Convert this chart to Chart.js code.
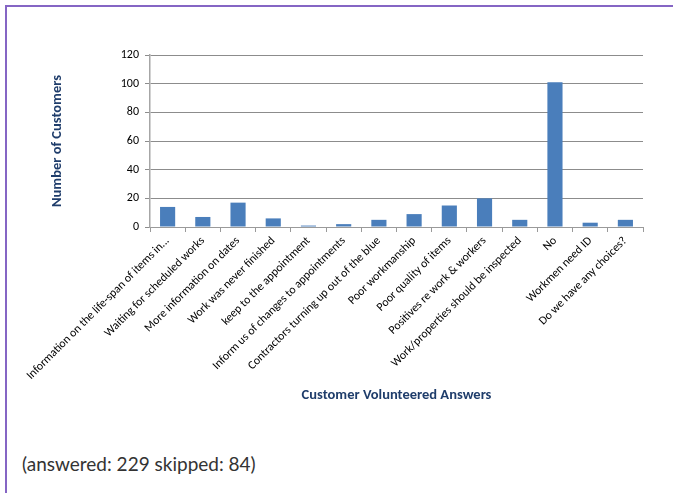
<!DOCTYPE html>
<html>
<head>
<meta charset="utf-8">
<script src="https://cdn.jsdelivr.net/npm/chart.js@4"></script>
<style>
  body { margin: 0; background: #fff; }
  #frame {
    position: absolute; left: 5px; top: 5px; width: 700px; height: 500px;
    border-left: 2px solid #8565c4; border-top: 2px solid #8565c4;
  }
  #wrap { position: absolute; left: 0; top: 0; }
  #note {
    position: absolute; left: 22px; top: 452px;
    font-family: Lato, "Noto Sans", sans-serif; font-size: 19px; color: #333;
  }
</style>
</head>
<body>
<div id="frame"></div>
<div id="wrap"><canvas id="barChart" width="673" height="410"></canvas></div>
<div id="note">(answered: 229 skipped: 84)</div>
<script>
const categories = [
	'Information on the life-span of items in...',
	'Waiting for scheduled works',
	'More information on dates',
	'Work was never finished',
	'keep to the appointment',
	'Inform us of changes to appointments',
	'Contractors turning up out of the blue',
	'Poor workmanship',
	'Poor quality of items',
	'Positives re work & workers',
	'Work/properties should be inspected',
	'No',
	'Workmen need ID',
	'Do we have any choices?'
];
const customers = [14, 7, 17, 6, 1, 2, 5, 9, 15, 20, 5, 101, 3, 5];
const yMax = 120;
const yStep = 20;

const fontFamily = 'Carlito, Lato, "Noto Sans", sans-serif';
const titleColor = '#1f3d6b';

document.addEventListener('DOMContentLoaded', function () {
	const ctx = document.getElementById('barChart').getContext('2d');
	new Chart(ctx, {
		type: 'bar',
		data: {
			labels: categories,
			datasets: [{
				label: 'Number of Customers',
				data: customers,
				backgroundColor: '#4a7ebb',
				borderWidth: 0,
				barPercentage: 0.43,
				categoryPercentage: 1
			}]
		},
		options: {
			responsive: false,
			animation: false,
			layout: {
				padding: { left: 45, right: 30, top: 55, bottom: 2 }
			},
			plugins: {
				legend: { display: false },
				tooltip: { enabled: false }
			},
			scales: {
				x: {
					afterFit: function (scale) {
						scale.height = 181;
						scale.paddingLeft = 0;
						scale.paddingRight = 0;
					},
					grid: {
						offset: true,
						drawOnChartArea: false,
						drawTicks: true,
						tickLength: 5,
						color: '#9a9a9a'
					},
					border: { color: '#9a9a9a', width: 1 },
					ticks: {
						autoSkip: false,
						minRotation: 45,
						maxRotation: 45,
						padding: 2,
						color: '#000',
						font: { family: fontFamily, size: 11.8 }
					},
					title: {
						display: true,
						text: 'Customer Volunteered Answers',
						color: titleColor,
						font: { family: fontFamily, size: 14.5, weight: 'bold' }
					}
				},
				y: {
					min: 0,
					max: yMax,
					afterFit: function (scale) {
						scale.width = 105;
					},
					grid: {
						color: '#8c8c8c',
						tickLength: 5
					},
					border: { color: '#a6a6a6', width: 1.5 },
					ticks: {
						stepSize: yStep,
						padding: 6,
						color: '#000',
						font: { family: fontFamily, size: 12 }
					},
					title: {
						display: true,
						text: 'Number of Customers',
						color: titleColor,
						font: { family: fontFamily, size: 14.5, weight: 'bold' }
					}
				}
			}
		}
	});
});
</script>
</body>
</html>
